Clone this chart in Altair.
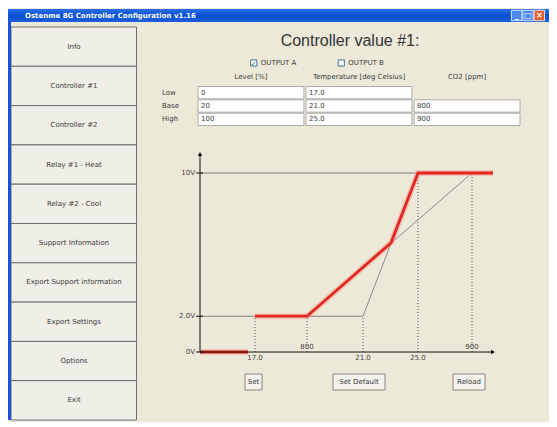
import altair as alt
import pandas as pd

# ---------------- data ----------------
window_title = "Ostenme 8G Controller Configuration v1.16"
window_ctrls = ["min", "max", "close"]
window_ctrl_glyphs = ["_", "\u25a1", "\u00d7"]

nav_buttons = ["Info", "Controller #1", "Controller #2", "Relay #1 - Heat", "Relay #2 - Cool",
               "Support Information", "Export Support information", "Export Settings",
               "Options", "Exit"]

panel_title = "Controller value #1:"
outputs = ["OUTPUT A", "OUTPUT B"]
output_mark = ["\u2713", ""]

table_rows = ["Low", "Base", "High"]
table_cols = ["Level [%]", "Temperature [deg Celsius]", "CO2 [ppm]"]
level_vals = ["0", "20", "100"]
temp_vals = ["17.0", "21.0", "25.0"]
co2_vals = ["", "800", "900"]

# chart: x = position along the horizontal axis (units from the vertical axis), y = volts
y_tick_vals = [0, 2, 10]
y_tick_labels = ["0V", "2.0V", "10V"]

break_labels = ["17.0", "800", "21.0", "25.0", "900"]
break_pos = [55, 107, 163, 218, 272]
break_level = [2, 2, 2, 10, 10]
break_kind = ["temp", "co2", "temp", "temp", "co2"]

guide_level = [2, 10]
guide_end = [163, 218]

curve_name = ["temp", "temp", "co2", "co2"]
curve_x = [163, 218, 107, 272]
curve_y = [2, 10, 2, 10]

out_seg = [0, 0, 1, 1, 1, 1, 1]
out_x = [0, 48, 55, 107, 191, 218, 293]
out_y = [0, 0, 2, 2, 6.1, 10, 10]

axis_x_end = 293
axis_y_end = 11.06

action_buttons = ["Set", "Set Default", "Reload"]
action_left = [45, 133, 253]
action_right = [62, 185, 285]

# ---------------- style ----------------
BG = "#ECE9D8"
UI_FONT = "DejaVu Sans"
TITLE_FONT = "Liberation Sans"
TXT = "#3A3A3A"

# ---------------- title bar ----------------
gradient = alt.LinearGradient(
    gradient="linear",
    stops=[alt.GradientStop(color="#2A6FE8", offset=0),
           alt.GradientStop(color="#0A4FD0", offset=0.5),
           alt.GradientStop(color="#1E5FDC", offset=1)],
    x1=0, x2=0, y1=0, y2=1)
tb_df = pd.DataFrame({"t": [window_title]})
tb_rect = alt.Chart(tb_df).mark_rect(fill=gradient).encode(
    x=alt.value(0), x2=alt.value(541), y=alt.value(0), y2=alt.value(13))
tb_text = alt.Chart(tb_df).mark_text(align="left", baseline="middle", color="white",
                                     fontWeight="bold", fontSize=7, font=UI_FONT).encode(
    x=alt.value(17), y=alt.value(7), text="t:N")
ctrl_df = pd.DataFrame({"b": window_ctrls, "g": window_ctrl_glyphs})
ctrl_x = alt.X("b:N", axis=None, scale=alt.Scale(type="point", domain=window_ctrls, range=[503, 537]))
tb_ctrl_blue = alt.Chart(ctrl_df).transform_filter("datum.b != 'close'").mark_square(
    size=110, stroke="white", strokeWidth=0.8, opacity=1, filled=True, color="#4C89F2").encode(
    x=ctrl_x, y=alt.value(6.5))
tb_ctrl_red = alt.Chart(ctrl_df).transform_filter("datum.b == 'close'").mark_square(
    size=110, stroke="white", strokeWidth=0.8, opacity=1, filled=True, color="#E2602E").encode(
    x=ctrl_x, y=alt.value(6.5))
tb_glyph = alt.Chart(ctrl_df).mark_text(fontSize=8, color="white", fontWeight="bold",
                                        baseline="middle", font=UI_FONT).encode(
    x=ctrl_x, y=alt.value(6.5), text="g:N")
titlebar = alt.layer(tb_rect, tb_text, tb_ctrl_blue, tb_ctrl_red, tb_glyph).properties(width=541, height=13)

# ---------------- left navigation ----------------
nav_df = pd.DataFrame({"name": nav_buttons})
nav_y = alt.Y("name:N", axis=None,
              scale=alt.Scale(domain=nav_buttons, range=[5, 398], paddingInner=0, paddingOuter=0))
nav_rect = alt.Chart(nav_df).mark_rect(fill="#EFEEE7", stroke="#6E6E6E", strokeWidth=1).encode(
    y=nav_y, x=alt.value(3), x2=alt.value(128.5))
nav_text = alt.Chart(nav_df).mark_text(font=UI_FONT, fontSize=7, color=TXT).encode(
    y=nav_y, x=alt.value(66), text="name:N")
nav_border = alt.Chart(pd.DataFrame({"a": [0]})).mark_rule(color="#1F50D6", strokeWidth=3).encode(
    x=alt.value(1.5), y=alt.value(0), y2=alt.value(398))
left = alt.layer(nav_rect, nav_text, nav_border).properties(width=129, height=398)

# ---------------- header ----------------
hd_df = pd.DataFrame({"t": [panel_title]})
hd_title = alt.Chart(hd_df).mark_text(font=TITLE_FONT, fontSize=16, color="#333333").encode(
    x=alt.value(213), y=alt.value(19), text="t:N")
out_df = pd.DataFrame({"name": outputs, "mark": output_mark})
out_x_enc = alt.X("name:N", axis=None,
                  scale=alt.Scale(type="point", domain=outputs, range=[73, 248]))
hd_box = alt.Chart(out_df).mark_square(size=38, fill="white", stroke="#1C5180",
                                       strokeWidth=0.8, opacity=1).encode(
    x=out_x_enc, y=alt.value(41))
hd_chk = alt.Chart(out_df).mark_text(fontSize=7, color="#1E8A1E", font=UI_FONT).encode(
    x=out_x_enc, y=alt.value(41.5), text="mark:N")
hd_lbl = alt.Chart(out_df).mark_text(align="left", dx=7, fontSize=7, color=TXT, font=UI_FONT).encode(
    x=out_x_enc, y=alt.value(41), text="name:N")
header = alt.layer(hd_title, hd_box, hd_chk, hd_lbl).properties(width=412, height=49)

# ---------------- table ----------------
cells = []
for r, lv, tv, cv in zip(table_rows, level_vals, temp_vals, co2_vals):
    for c, v in zip(table_cols, [lv, tv, cv]):
        if c == table_cols[2] and v == "":
            continue
        cells.append({"row": r, "col": c, "val": v})
cell_df = pd.DataFrame(cells)
col_scale = alt.Scale(domain=table_cols, range=[61, 383], paddingInner=0.02, paddingOuter=0)
col_x = alt.X("col:N", axis=None, scale=col_scale)
row_y = alt.Y("row:N", axis=None,
              scale=alt.Scale(domain=table_rows, range=[15.5, 54.5], paddingInner=0.08, paddingOuter=0))
tb_boxes = alt.Chart(cell_df).mark_rect(fill="white", stroke="#9A9A9A", strokeWidth=0.8).encode(
    x=col_x, y=row_y)
tb_vals = alt.Chart(cell_df).mark_text(align="left", dx=3, fontSize=7, color=TXT, font=UI_FONT).encode(
    x=alt.X("col:N", axis=None, bandPosition=0, scale=col_scale),
    y=row_y, text="val:N")
colhead_df = pd.DataFrame({"col": table_cols})
tb_head = alt.Chart(colhead_df).mark_text(fontSize=7, color=TXT, font=UI_FONT).encode(
    x=col_x, y=alt.value(6), text="col:N")
rowhead_df = pd.DataFrame({"row": table_rows})
tb_rowhead = alt.Chart(rowhead_df).mark_text(align="left", fontSize=7, color=TXT, font=UI_FONT).encode(
    x=alt.value(25), y=row_y, text="row:N")
table = alt.layer(tb_boxes, tb_vals, tb_head, tb_rowhead).properties(width=412, height=56)

# ---------------- line chart ----------------
xs = alt.Scale(domain=[-63, 349], nice=False, zero=False)
ys = alt.Scale(domain=[-1.06, 12.57], nice=False, zero=False)

guide_df = pd.DataFrame({"lvl": guide_level, "end": guide_end, "start": [0, 0]})
guides = alt.Chart(guide_df).mark_rule(color="#808080", strokeWidth=1).encode(
    x=alt.X("start:Q", scale=xs, axis=None), x2="end:Q",
    y=alt.Y("lvl:Q", scale=ys, axis=None))

brk_df = pd.DataFrame({"pos": break_pos, "lvl": break_level, "label": break_labels,
                       "kind": break_kind, "zero": [0] * len(break_pos)})
dotted = alt.Chart(brk_df).mark_rule(color="#555555", strokeWidth=1, strokeDash=[1, 2]).encode(
    x=alt.X("pos:Q", scale=xs, axis=None),
    y=alt.Y("zero:Q", scale=ys, axis=None), y2="lvl:Q")

curve_df = pd.DataFrame({"name": curve_name, "x": curve_x, "y": curve_y})
curves = alt.Chart(curve_df).mark_line(color="#8A8A8A", strokeWidth=1).encode(
    x=alt.X("x:Q", scale=xs, axis=None), y=alt.Y("y:Q", scale=ys, axis=None), detail="name:N")

out_df2 = pd.DataFrame({"seg": out_seg, "x": out_x, "y": out_y})
out_halo = alt.Chart(out_df2).mark_line(color="#F29A92", strokeWidth=6, opacity=0.45).encode(
    x=alt.X("x:Q", scale=xs, axis=None), y=alt.Y("y:Q", scale=ys, axis=None), detail="seg:N")
out_line = alt.Chart(out_df2).mark_line(color="#E3261E", strokeWidth=2.8).encode(
    x=alt.X("x:Q", scale=xs, axis=None), y=alt.Y("y:Q", scale=ys, axis=None), detail="seg:N")

ax_df = pd.DataFrame({"x0": [0, 0], "x1": [0, axis_x_end], "y0": [0, 0], "y1": [axis_y_end, 0]})
axes = alt.Chart(ax_df).mark_rule(color="#111111", strokeWidth=1).encode(
    x=alt.X("x0:Q", scale=xs, axis=None), x2="x1:Q",
    y=alt.Y("y0:Q", scale=ys, axis=None), y2="y1:Q")
arr_up = alt.Chart(pd.DataFrame({"x": [0], "y": [axis_y_end]})).mark_point(
    shape="triangle-up", filled=True, size=22, color="#111111", opacity=1).encode(
    x=alt.X("x:Q", scale=xs, axis=None), y=alt.Y("y:Q", scale=ys, axis=None))
arr_right = alt.Chart(pd.DataFrame({"x": [axis_x_end], "y": [0]})).mark_point(
    shape="triangle-right", filled=True, size=22, color="#111111", opacity=1).encode(
    x=alt.X("x:Q", scale=xs, axis=None), y=alt.Y("y:Q", scale=ys, axis=None))

ytk_df = pd.DataFrame({"v": y_tick_vals, "lab": y_tick_labels})
ytick_marks = alt.Chart(ytk_df).mark_rule(color="#111111", strokeWidth=1).encode(
    x=alt.value(59), x2=alt.value(66), y=alt.Y("v:Q", scale=ys, axis=None))
ytick_text = alt.Chart(ytk_df).mark_text(align="right", baseline="middle", fontSize=7,
                                         color="#444444", font=UI_FONT).encode(
    x=alt.value(58), y=alt.Y("v:Q", scale=ys, axis=None), text="lab:N")

xlab_temp = alt.Chart(brk_df).transform_filter("datum.kind == 'temp'").mark_text(
    baseline="middle", fontSize=7, color="#444444", font=UI_FONT).encode(
    x=alt.X("pos:Q", scale=xs, axis=None), y=alt.value(231), text="label:N")
xlab_co2 = alt.Chart(brk_df).transform_filter("datum.kind == 'co2'").mark_text(
    baseline="middle", fontSize=7, color="#444444", font=UI_FONT).encode(
    x=alt.X("pos:Q", scale=xs, axis=None), y=alt.value(220), text="label:N")

chart_view = alt.layer(guides, dotted, curves, out_halo, out_line, axes, arr_up, arr_right,
                       ytick_marks, ytick_text, xlab_temp, xlab_co2).properties(width=412, height=244)

# ---------------- action buttons ----------------
act_df = pd.DataFrame({"name": action_buttons, "l": action_left, "r": action_right})
act_rect = alt.Chart(act_df).mark_rect(fill="#F3F2EC", stroke="#6E6E6E", strokeWidth=0.8).encode(
    x=alt.X("l:Q", scale=xs, axis=None), x2="r:Q", y=alt.value(3), y2=alt.value(19))
act_text = alt.Chart(act_df).transform_calculate(mid="(datum.l + datum.r) / 2").mark_text(
    fontSize=7, color=TXT, font=UI_FONT).encode(
    x=alt.X("mid:Q", scale=xs, axis=None), y=alt.value(11), text="name:N")
actions = alt.layer(act_rect, act_text).properties(width=412, height=49)

# ---------------- compose ----------------
right = alt.vconcat(header, table, chart_view, actions, spacing=0, bounds="flush")
body = alt.hconcat(left, right, spacing=0, bounds="flush")
chart = alt.vconcat(titlebar, body, spacing=0, bounds="flush").properties(
    padding=0, background=BG
).configure_view(strokeWidth=0)

chart.save("out.html", embed_options={"renderer": "svg", "actions": False})
